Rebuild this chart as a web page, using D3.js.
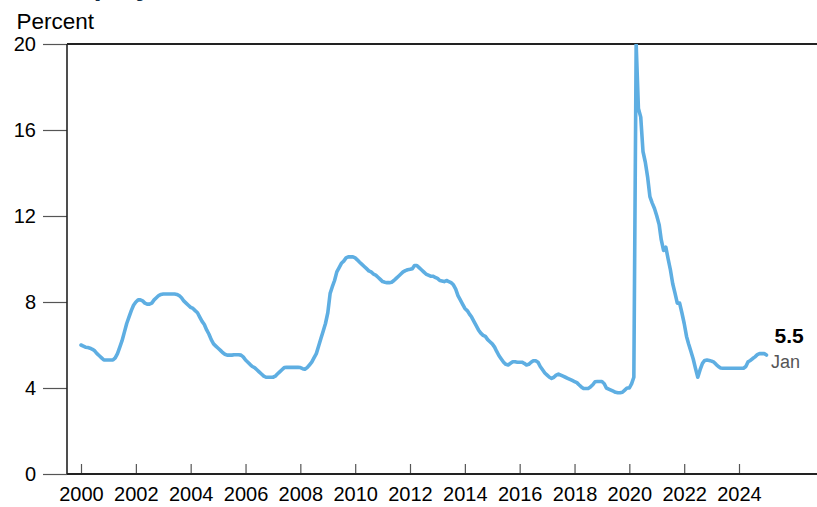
<!DOCTYPE html>
<html>
<head>
<meta charset="utf-8">
<script src="https://cdn.jsdelivr.net/npm/d3@7"></script>
<style>
  html, body { margin: 0; padding: 0; background: #fff; }
  svg { display: block; font-family: "Liberation Sans", Arial, sans-serif; }
</style>
</head>
<body>
<svg id="chart" width="817" height="507"></svg>
<script>
// ---- Data ----
const titleText = "Unemployment rate";
const unitLabel = "Percent";
const startMonth = "2000-01";
// Monthly values, Jan 2000 .. Jan 2025 (percent)
const rate2000 = [6.0, 5.95, 5.9, 5.88, 5.85, 5.8, 5.73, 5.6, 5.5, 5.4, 5.3, 5.3];
const rate2001 = [5.3, 5.3, 5.3, 5.4, 5.6, 5.9, 6.2, 6.6, 7.0, 7.3, 7.6, 7.85];
const rate2002 = [8.0, 8.1, 8.1, 8.05, 7.95, 7.9, 7.9, 7.95, 8.1, 8.2, 8.3, 8.35];
const rate2003 = [8.37, 8.37, 8.37, 8.37, 8.37, 8.37, 8.35, 8.3, 8.2, 8.05, 7.95, 7.85];
const rate2004 = [7.75, 7.7, 7.6, 7.5, 7.3, 7.1, 6.95, 6.7, 6.5, 6.25, 6.05, 5.95];
const rate2005 = [5.85, 5.75, 5.65, 5.57, 5.53, 5.53, 5.53, 5.55, 5.55, 5.55, 5.53, 5.45];
const rate2006 = [5.3, 5.2, 5.1, 5.0, 4.95, 4.85, 4.75, 4.65, 4.55, 4.5, 4.5, 4.5];
const rate2007 = [4.5, 4.55, 4.65, 4.75, 4.85, 4.95, 4.96, 4.96, 4.96, 4.96, 4.96, 4.96];
const rate2008 = [4.95, 4.9, 4.87, 4.95, 5.07, 5.2, 5.4, 5.6, 5.95, 6.3, 6.65, 7.0];
const rate2009 = [7.5, 8.4, 8.7, 9.0, 9.4, 9.6, 9.8, 9.9, 10.05, 10.1, 10.1, 10.1];
const rate2010 = [10.05, 9.95, 9.85, 9.75, 9.65, 9.55, 9.45, 9.4, 9.3, 9.25, 9.15, 9.05];
const rate2011 = [8.95, 8.92, 8.9, 8.9, 8.92, 9.0, 9.1, 9.2, 9.3, 9.4, 9.46, 9.5];
const rate2012 = [9.52, 9.55, 9.7, 9.7, 9.6, 9.5, 9.4, 9.3, 9.25, 9.2, 9.2, 9.15];
const rate2013 = [9.1, 9.0, 8.98, 8.95, 9.0, 8.95, 8.9, 8.8, 8.6, 8.3, 8.1, 7.9];
const rate2014 = [7.7, 7.6, 7.45, 7.3, 7.1, 6.9, 6.7, 6.55, 6.45, 6.4, 6.25, 6.15];
const rate2015 = [6.05, 5.9, 5.7, 5.5, 5.35, 5.2, 5.1, 5.07, 5.15, 5.22, 5.22, 5.2];
const rate2016 = [5.2, 5.2, 5.15, 5.07, 5.1, 5.2, 5.27, 5.27, 5.2, 5.0, 4.85, 4.7];
const rate2017 = [4.6, 4.5, 4.45, 4.5, 4.6, 4.65, 4.6, 4.55, 4.5, 4.45, 4.4, 4.35];
const rate2018 = [4.3, 4.25, 4.15, 4.05, 3.98, 3.98, 3.98, 4.05, 4.15, 4.29, 4.3, 4.3];
const rate2019 = [4.3, 4.2, 4.0, 3.95, 3.9, 3.85, 3.8, 3.78, 3.78, 3.8, 3.9, 4.0];
const rate2020 = [4.0, 4.2, 4.5, 20.0, 17.0, 16.6, 15.0, 14.5, 13.8, 12.9, 12.6, 12.35];
const rate2021 = [12.0, 11.6, 10.9, 10.4, 10.55, 10.0, 9.5, 8.85, 8.4, 7.95, 7.95, 7.5];
const rate2022 = [7.0, 6.4, 6.05, 5.7, 5.35, 4.9, 4.5, 4.85, 5.15, 5.28, 5.3, 5.28];
const rate2023 = [5.25, 5.2, 5.1, 5.0, 4.93, 4.92, 4.92, 4.92, 4.92, 4.92, 4.92, 4.92];
const rate2024 = [4.92, 4.92, 4.92, 5.0, 5.22, 5.28, 5.37, 5.45, 5.55, 5.6, 5.6, 5.6];
const rate2025 = [5.53];
const yTicks = [0, 4, 8, 12, 16, 20];
const xTickYears = [2000, 2002, 2004, 2006, 2008, 2010, 2012, 2014, 2016, 2018, 2020, 2022, 2024];
const lastLabelValue = "5.5";
const lastLabelMonth = "Jan";

// ---- Build series ----
const allRates = [].concat(rate2000, rate2001, rate2002, rate2003, rate2004, rate2005,
  rate2006, rate2007, rate2008, rate2009, rate2010, rate2011, rate2012, rate2013,
  rate2014, rate2015, rate2016, rate2017, rate2018, rate2019, rate2020, rate2021,
  rate2022, rate2023, rate2024, rate2025);
const parseMonth = d3.timeParse("%Y-%m");
const t0 = parseMonth(startMonth);
const series = allRates.map((v, i) => ({ date: d3.timeMonth.offset(t0, i), value: v }));

// ---- Layout ----
const axisLeftX = 67, plotRight = 817;
const svg = d3.select("#chart");

const x = d3.scaleTime()
  .domain([new Date(2000, 0, 1), new Date(2024, 0, 1)])
  .range([81, 739]);
const y = d3.scaleLinear().domain([0, 20]).range([474, 44]);

// Title (cut off at top edge, as in the reference)
svg.append("text")
  .attr("x", 16).attr("y", -4.8)
  .attr("font-size", 28).attr("font-weight", "bold")
  .attr("fill", "#0e2b47")
  .text(titleText);

// Unit label
svg.append("text")
  .attr("x", 16.5).attr("y", 28.5)
  .attr("font-size", 22.5)
  .attr("fill", "#000")
  .text(unitLabel);

// Y axis
const yAxis = d3.axisLeft(y).tickValues(yTicks).tickSize(24).tickSizeOuter(0).tickPadding(7);
const gy = svg.append("g").attr("transform", `translate(${axisLeftX},0)`).call(yAxis);
gy.select(".domain").remove();
gy.selectAll(".tick line").attr("stroke", "#555").attr("stroke-width", 1.2);
gy.selectAll(".tick text")
  .attr("font-size", 20).attr("fill", "#000")
  .attr("font-family", "Liberation Sans, Arial, sans-serif")
  .attr("dy", "0.34em");

// X axis
const xAxis = d3.axisBottom(x)
  .tickValues(xTickYears.map(yr => new Date(yr, 0, 1)))
  .tickFormat(d3.timeFormat("%Y"))
  .tickSize(-10).tickSizeOuter(0).tickPadding(13);
const gx = svg.append("g").attr("transform", `translate(0,${y(0)})`).call(xAxis);
gx.select(".domain").remove();
gx.selectAll(".tick line").attr("stroke", "#555").attr("stroke-width", 1.2);
gx.selectAll(".tick text")
  .attr("font-size", 20).attr("fill", "#000")
  .attr("font-family", "Liberation Sans, Arial, sans-serif");

// Frame lines: left axis, top line, baseline
svg.append("line")
  .attr("x1", axisLeftX).attr("x2", axisLeftX)
  .attr("y1", y(20)).attr("y2", y(0))
  .attr("stroke", "#222").attr("stroke-width", 1.6);
svg.append("line")
  .attr("x1", axisLeftX).attr("x2", plotRight)
  .attr("y1", y(20)).attr("y2", y(20))
  .attr("stroke", "#222").attr("stroke-width", 1.8);
svg.append("line")
  .attr("x1", axisLeftX).attr("x2", plotRight)
  .attr("y1", y(0)).attr("y2", y(0))
  .attr("stroke", "#222").attr("stroke-width", 1.8);

// Clip
svg.append("clipPath").attr("id", "plotclip")
  .append("rect")
  .attr("x", axisLeftX).attr("y", y(20))
  .attr("width", plotRight - axisLeftX).attr("height", y(0) - y(20));

// Line
const line = d3.line().x(d => x(d.date)).y(d => y(d.value));
svg.append("path")
  .datum(series)
  .attr("clip-path", "url(#plotclip)")
  .attr("fill", "none")
  .attr("stroke", "#5eaee2")
  .attr("stroke-width", 3.6)
  .attr("stroke-linejoin", "round")
  .attr("stroke-linecap", "round")
  .attr("d", line);

// End label
const last = series[series.length - 1];
svg.append("text")
  .attr("x", x(last.date) + 8).attr("y", y(last.value) - 12)
  .attr("font-size", 21).attr("font-weight", "bold").attr("fill", "#000")
  .text(lastLabelValue);
svg.append("text")
  .attr("x", x(last.date) + 4.5).attr("y", y(last.value) + 12.5)
  .attr("font-size", 18).attr("fill", "#555")
  .text(lastLabelMonth);
</script>
</body>
</html>
